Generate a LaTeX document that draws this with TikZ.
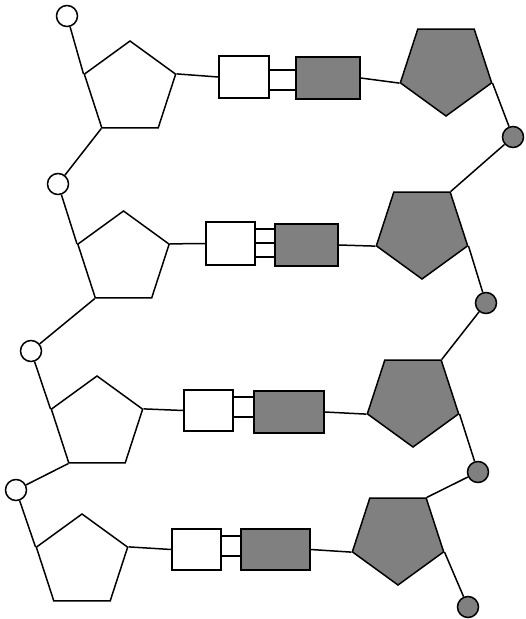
\documentclass[tikz,border=0pt]{standalone}
\usetikzlibrary{shapes.geometric}
\begin{document}
\begin{tikzpicture}[x=1pt,y=-1pt,line width=1.5pt,
  wpent/.style={draw,fill=white,regular polygon,regular polygon sides=5,minimum size=96pt,inner sep=0pt},
  gpent/.style={draw,fill=gray,regular polygon,regular polygon sides=5,shape border rotate=180,minimum size=96pt,inner sep=0pt},
  wcirc/.style={draw,fill=white,circle,minimum size=21pt,inner sep=0pt},
  gcirc/.style={draw,fill=gray,circle,minimum size=21pt,inner sep=0pt},
  wbox/.style={draw,fill=white,rectangle,inner sep=0pt},
  gbox/.style={draw,fill=gray,rectangle,inner sep=0pt}]
\useasboundingbox (0,0) rectangle (526,619);
% sugars
\node[wpent] (wp1) at (130,89) {};
\node[wpent] (wp2) at (123.5,259) {};
\node[wpent] (wp3) at (97,424) {};
\node[wpent] (wp4) at (82,562) {};
\node[gpent] (gp1) at (446,68) {};
\node[gpent] (gp2) at (422,231) {};
\node[gpent] (gp3) at (413,399) {};
\node[gpent] (gp4) at (398,537) {};
% phosphates
\node[wcirc] (wc0) at (67,16) {};
\node[wcirc] (wc1) at (58,184) {};
\node[wcirc] (wc2) at (31,351) {};
\node[wcirc] (wc3) at (16,490) {};
\node[gcirc] (gc1) at (513,137) {};
\node[gcirc] (gc2) at (486,303) {};
\node[gcirc] (gc3) at (478,472) {};
\node[gcirc] (gc4) at (468,607) {};
% bases
\node[wbox,minimum width=50pt,minimum height=42pt] (wb1) at (244,77) {};
\node[gbox,minimum width=64pt,minimum height=42pt] (gb1) at (328,78) {};
\node[wbox,minimum width=49pt,minimum height=43pt] (wb2) at (230.5,243.5) {};
\node[gbox,minimum width=63pt,minimum height=42pt] (gb2) at (306.5,245) {};
\node[wbox,minimum width=49pt,minimum height=41pt] (wb3) at (208.5,410.5) {};
\node[gbox,minimum width=70pt,minimum height=42pt] (gb3) at (289,412) {};
\node[wbox,minimum width=49pt,minimum height=41pt] (wb4) at (196.5,549.5) {};
\node[gbox,minimum width=69pt,minimum height=41pt] (gb4) at (275.5,549.5) {};
% white backbone
\draw (wc0) -- (wp1.corner 2);
\draw (wp1.corner 3) -- (wc1);
\draw (wc1) -- (wp2.corner 2);
\draw (wp2.corner 3) -- (wc2);
\draw (wc2) -- (wp3.corner 2);
\draw (wp3.corner 3) -- (wc3);
\draw (wc3) -- (wp4.corner 2);
% gray backbone
\draw (gp1.corner 2) -- (gc1);
\draw (gc1) -- (gp2.corner 3);
\draw (gp2.corner 2) -- (gc2);
\draw (gc2) -- (gp3.corner 3);
\draw (gp3.corner 2) -- (gc3);
\draw (gc3) -- (gp4.corner 3);
\draw (gp4.corner 2) -- (gc4);
% sugar-base bonds
\foreach \i in {1,2,3,4}{
  \draw (wp\i.corner 5) -- (wb\i.west);
  \draw (gb\i.east) -- (gp\i.corner 5);
}
% base pair bonds
\draw (wb1.east |- 0,70) -- (gb1.west |- 0,70);
\draw (wb1.east |- 0,90) -- (gb1.west |- 0,90);
\draw (wb2.east |- 0,229) -- (gb2.west |- 0,229);
\draw (wb2.east |- 0,243) -- (gb2.west |- 0,243);
\draw (wb2.east |- 0,257) -- (gb2.west |- 0,257);
\draw (wb3.east |- 0,397) -- (gb3.west |- 0,397);
\draw (wb3.east |- 0,417) -- (gb3.west |- 0,417);
\draw (wb4.east |- 0,536) -- (gb4.west |- 0,536);
\draw (wb4.east |- 0,556) -- (gb4.west |- 0,556);
\end{tikzpicture}
\end{document}
